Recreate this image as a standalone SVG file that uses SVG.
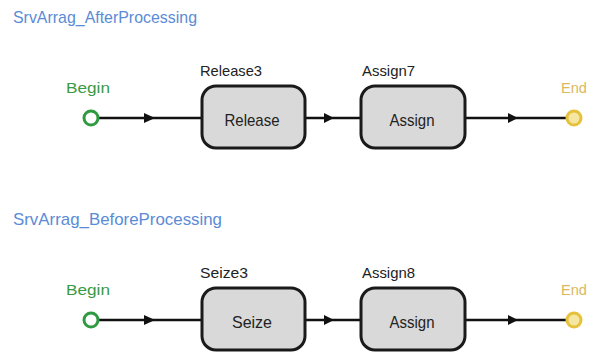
<svg xmlns="http://www.w3.org/2000/svg" width="594" height="354" viewBox="0 0 594 354">
<style>
text{font-family:"Liberation Sans","DejaVu Sans",sans-serif}
.title{fill:#5b8bd6;font-size:17px}
.begin{fill:#3a9a44;font-size:15px}
.end{fill:#d9b95e;font-size:15px}
.lbl{fill:#222;font-size:15px}
.in{fill:#222;font-size:17px;text-anchor:middle}
.box{fill:#d9d9d9;stroke:#1a1a1a;stroke-width:3}
.bc{fill:#fff;stroke:#2f9a3f;stroke-width:3}
.ec{fill:#f5e6a2;stroke:#e6c13c;stroke-width:3}
.ln{stroke:#111;stroke-width:2.5;fill:none}
.ah{fill:#111}
</style>
<rect width="594" height="354" fill="#fff"/>
<text class="title" x="13" y="23" textLength="184" lengthAdjust="spacingAndGlyphs">SrvArrag_AfterProcessing</text>
<text class="title" x="13" y="225" textLength="209" lengthAdjust="spacingAndGlyphs">SrvArrag_BeforeProcessing</text>
<g id="connectors">
<line class="ln" x1="98" y1="118" x2="202" y2="118"/>
<polygon class="ah" points="155,118 144,113 144,123"/>
<line class="ln" x1="305" y1="118" x2="361" y2="118"/>
<polygon class="ah" points="334,118 324,113 324,123"/>
<line class="ln" x1="465" y1="118" x2="566" y2="118"/>
<polygon class="ah" points="518,118 508,113 508,123"/>
<line class="ln" x1="98" y1="320" x2="202" y2="320"/>
<polygon class="ah" points="155,320 144,315 144,325"/>
<line class="ln" x1="305" y1="320" x2="361" y2="320"/>
<polygon class="ah" points="334,320 324,315 324,325"/>
<line class="ln" x1="465" y1="320" x2="566" y2="320"/>
<polygon class="ah" points="518,320 508,315 508,325"/>
</g>
<g id="begin1">
<text class="begin" x="66" y="93" textLength="44" lengthAdjust="spacingAndGlyphs">Begin</text>
<circle class="bc" cx="91" cy="118" r="7"/>
</g>
<g id="release3">
<text class="lbl" x="200" y="76" textLength="62" lengthAdjust="spacingAndGlyphs">Release3</text>
<rect class="box" x="202" y="86" width="103" height="62" rx="14"/>
<text class="in" x="252" y="126" textLength="55" lengthAdjust="spacingAndGlyphs">Release</text>
</g>
<g id="assign7">
<text class="lbl" x="362" y="76" textLength="53" lengthAdjust="spacingAndGlyphs">Assign7</text>
<rect class="box" x="361" y="86" width="104" height="62" rx="14"/>
<text class="in" x="412" y="126" textLength="45" lengthAdjust="spacingAndGlyphs">Assign</text>
</g>
<g id="end1">
<text class="end" x="561" y="93" textLength="26" lengthAdjust="spacingAndGlyphs">End</text>
<circle class="ec" cx="574" cy="118" r="7"/>
</g>
<g id="begin2">
<text class="begin" x="66" y="295" textLength="44" lengthAdjust="spacingAndGlyphs">Begin</text>
<circle class="bc" cx="91" cy="320" r="7"/>
</g>
<g id="seize3">
<text class="lbl" x="200" y="278" textLength="48" lengthAdjust="spacingAndGlyphs">Seize3</text>
<rect class="box" x="202" y="288" width="103" height="62" rx="14"/>
<text class="in" x="252" y="328" textLength="40" lengthAdjust="spacingAndGlyphs">Seize</text>
</g>
<g id="assign8">
<text class="lbl" x="362" y="278" textLength="53" lengthAdjust="spacingAndGlyphs">Assign8</text>
<rect class="box" x="361" y="288" width="104" height="62" rx="14"/>
<text class="in" x="412" y="328" textLength="45" lengthAdjust="spacingAndGlyphs">Assign</text>
</g>
<g id="end2">
<text class="end" x="561" y="295" textLength="26" lengthAdjust="spacingAndGlyphs">End</text>
<circle class="ec" cx="574" cy="320" r="7"/>
</g>
</svg>
